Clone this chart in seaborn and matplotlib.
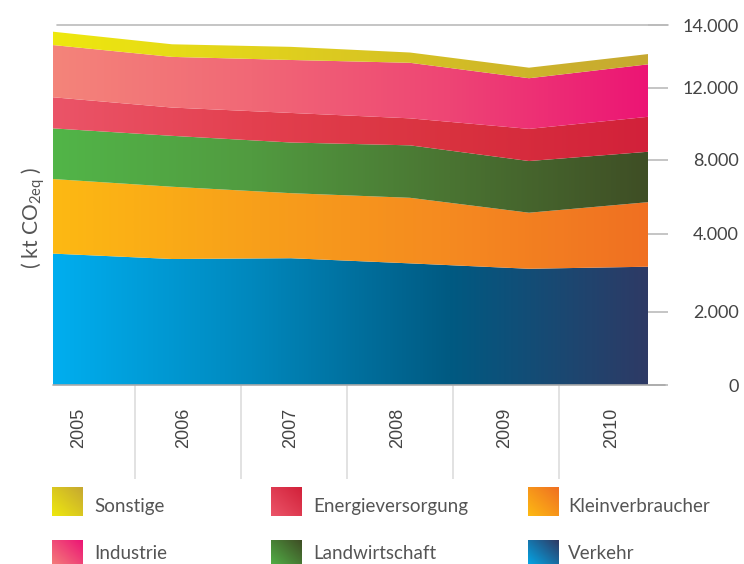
import numpy as np
import pandas as pd
import seaborn as sns
import matplotlib.pyplot as plt

# values (kt CO2eq, in the drawn scale of the chart)
years = ['2005', '2006', '2007', '2008', '2009', '2010']
verkehr = [5110, 4900, 4930, 4730, 4520, 4600]
kleinverbraucher = [2900, 2810, 2530, 2550, 2180, 2510]
landwirtschaft = [1970, 1980, 1970, 2040, 2010, 1960]
energieversorgung = [1210, 1100, 1150, 1050, 1250, 1360]
industrie = [2030, 1970, 2060, 2160, 1970, 2040]
sonstige = [520, 490, 510, 400, 410, 400]
y_tick_labels = ['0', '2.000', '4.000', '8.000', '12.000', '14.000']

df = pd.DataFrame({
    'Verkehr': verkehr,
    'Kleinverbraucher': kleinverbraucher,
    'Landwirtschaft': landwirtschaft,
    'Energieversorgung': energieversorgung,
    'Industrie': industrie,
    'Sonstige': sonstige,
}, index=years)

# gradient stops left -> right
grads = {
    'Verkehr': ['#00aeef', '#0088bd', '#005a82', '#2e3a65'],
    'Kleinverbraucher': ['#fdb913', '#f8a01a', '#f58a20', '#f07022'],
    'Landwirtschaft': ['#52b548', '#519b40', '#4a7432', '#3f4e25'],
    'Energieversorgung': ['#eb5468', '#e3404f', '#d9323f', '#d2213a'],
    'Industrie': ['#f4847a', '#f16876', '#ee4574', '#ec1575'],
    'Sonstige': ['#eee80e', '#e2d31c', '#d3bd26', '#c6a831'],
}
legend_order = [['Sonstige', 'Energieversorgung', 'Kleinverbraucher'],
                ['Industrie', 'Landwirtschaft', 'Verkehr']]

sns.set_theme(style='white')
plt.rcParams['font.family'] = ['Lato', 'DejaVu Sans']

W, H = 744, 564
fig = plt.figure(figsize=(W / 100, H / 100), dpi=100)
ax = fig.add_axes([53 / W, (H - 385) / H, (648 - 53) / W, 360 / H])

x = np.arange(len(years))
ymax = 14000
ax.set_xlim(0, len(years) - 1)
ax.set_ylim(0, ymax)

grad = np.linspace(0, 1, 512).reshape(1, -1)
base = np.zeros(len(years))
for name in df.columns:
    top = base + df[name].values
    poly = ax.fill_between(x, base, top, facecolor='none', edgecolor='none')
    cmap = sns.blend_palette(grads[name], as_cmap=True)
    im = ax.imshow(grad, cmap=cmap, extent=(0, len(years) - 1, 0, ymax),
                   aspect='auto', interpolation='bilinear', zorder=1)
    im.set_clip_path(poly.get_paths()[0], transform=ax.transData)
    base = top

for s in ax.spines.values():
    s.set_visible(False)

# y axis on the right, positions as drawn in the reference
px = lambda y: (385 - y) / 360 * ymax
ax.yaxis.tick_right()
ax.set_yticks([px(p) for p in [385, 312, 234, 160, 88, 25]], y_tick_labels)
ax.tick_params(axis='y', length=14.5, width=1.2, color='#bbbbbb',
               labelcolor='#444444', labelsize=13, pad=51, direction='out')
for lbl in ax.get_yticklabels():
    lbl.set_horizontalalignment('right')

# x axis: year labels and separators
step = (648 - 53) / (len(years) - 1)
ax.set_xticks([(p - 53) / step for p in [79, 184, 291, 398, 505, 612]])
ax.set_xticklabels(years, rotation=90, family=['Liberation Sans', 'DejaVu Sans'])
ax.set_xticks([(p - 53) / step for p in [135, 241, 347, 453, 559]], minor=True)
ax.tick_params(axis='x', which='major', length=0, pad=16.5,
               labelsize=13, labelcolor='#444444')
ax.tick_params(axis='x', which='minor', length=68, width=1.2,
               color='#dddddd', direction='out', bottom=True)

ax.axhline(ymax, xmin=(57 - 53) / 595, xmax=(668 - 53) / 595,
           color='#bbbbbb', lw=1.2, clip_on=False, zorder=3)
ax.axhline(0, xmin=0, xmax=(665 - 53) / 595,
           color='#aaaaaa', lw=1.2, clip_on=False, zorder=3)
ax.grid(False)

fig.text(33 / W, 1 - 218 / H, '( kt CO$_\\mathregular{2eq}$ )', rotation=90,
         ha='center', va='center', color='#555555', fontsize=15)

# legend with gradient swatches
diag = np.add.outer(np.linspace(1, 0, 32), np.linspace(0, 1, 32)) / 2
col_x = [52, 271, 528]
txt_x = [94, 313, 568]
row_top = [487, 540]
row_base = [512, 559]
for r, row in enumerate(legend_order):
    for c, name in enumerate(row):
        sw = fig.add_axes([col_x[c] / W, (H - row_top[r] - 29) / H, 31 / W, 29 / H])
        cmap = sns.blend_palette([grads[name][0], grads[name][-1]], as_cmap=True)
        sw.imshow(diag, cmap=cmap, aspect='auto', vmin=0, vmax=1)
        sw.axis('off')
        fig.text(txt_x[c] / W, 1 - row_base[r] / H, name, ha='left',
                 va='baseline', color='#555555', fontsize=13.5)

fig.savefig('out.png', dpi=100)
